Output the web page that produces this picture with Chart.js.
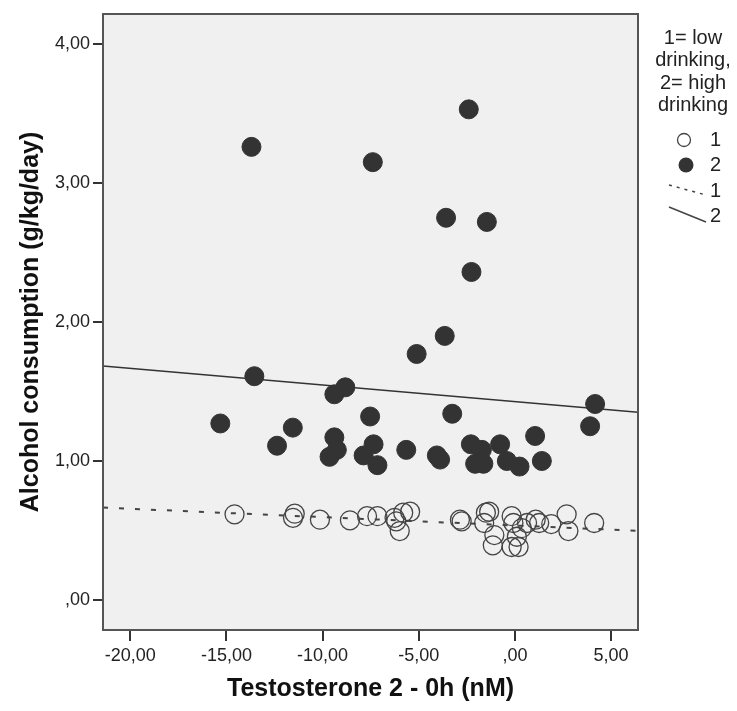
<!DOCTYPE html>
<html><head><meta charset="utf-8">
<script src="https://cdn.jsdelivr.net/npm/chart.js@4.4.1/dist/chart.umd.min.js"></script>
<style>html,body{margin:0;padding:0;background:#fff}#wrap{position:relative;width:737px;height:711px}</style>
</head><body><div id="wrap"><canvas id="c" width="737" height="711"></canvas></div>
<script>
// ---- data ----
const xTicks = [-20, -15, -10, -5, 0, 5];
const yTicks = [0, 1, 2, 3, 4];
const xRange = [-21.42, 6.40];
const yRange = [-0.216, 4.216];

// group 1 = low drinking (open circles)
const lowX = [-14.58, -11.45, -11.54, -10.14, -8.58, -7.69, -7.15, -6.26, -6.17, -5.99, -5.81, -5.45,
  -2.86, -2.77, -1.51, -1.34, -1.60, -1.07, -1.15, -0.17, -0.08, -0.17, 0.19, 0.10, 0.36, 0.63,
  1.08, 1.26, 1.89, 2.69, 2.78, 4.12];
const lowY = [0.616, 0.621, 0.591, 0.578, 0.573, 0.603, 0.603, 0.591, 0.566, 0.496, 0.628, 0.635,
  0.578, 0.566, 0.628, 0.635, 0.554, 0.467, 0.393, 0.603, 0.554, 0.381, 0.381, 0.455, 0.517, 0.554,
  0.578, 0.554, 0.546, 0.616, 0.496, 0.554];

// group 2 = high drinking (filled circles)
const highX = [-2.40, -13.70, -7.39, -3.58, -1.46, -2.26, -3.65, -5.11, -13.55, -8.82, -9.39, -15.32,
  -11.55, -12.37, -9.39, -9.26, -9.64, -7.53, -3.26, 4.17, 3.91, 1.05, -7.35, -7.87, -7.15, -5.65,
  -4.06, -3.89, -2.29, -1.72, -2.07, -1.64, -0.77, -0.42, 0.24, 1.40];
const highY = [3.53, 3.26, 3.15, 2.75, 2.72, 2.36, 1.90, 1.77, 1.61, 1.53, 1.48, 1.27,
  1.24, 1.11, 1.17, 1.08, 1.03, 1.32, 1.34, 1.41, 1.25, 1.18, 1.12, 1.04, 0.97, 1.08,
  1.04, 1.01, 1.12, 1.08, 0.98, 0.98, 1.12, 1.00, 0.96, 1.00];

// fit lines (intercept, slope)
const fitLow = [0.536, -0.00601];
const fitHigh = [1.427, -0.01197];

const legendTitle = ["1= low", "drinking,", "2= high", "drinking"];
const legendLabels = ["1", "2", "1", "2"];
const xTitle = "Testosterone 2 - 0h (nM)";
const yTitle = "Alcohol consumption (g/kg/day)";

// ---- build ----
const pts = (xs, ys) => xs.map((x, i) => ({x: x, y: ys[i]}));
const fitPts = f => xRange.map(x => ({x: x, y: f[0] + f[1] * x}));
const fmt = v => { let s = Math.abs(v).toFixed(2).replace('.', ','); if (s.startsWith('0,')) s = s.slice(1); return (v < 0 ? '-' : '') + s; };
const FONT = 'Arial, "Liberation Sans", sans-serif';
const INK = '#333333';

const framePlugin = {
  id: 'frame',
  beforeDatasetsDraw(chart) {
    const {ctx, chartArea: a} = chart;
    ctx.save();
    ctx.fillStyle = '#f0f0f0';
    ctx.fillRect(a.left, a.top, a.right - a.left, a.bottom - a.top);
    ctx.restore();
  },
  afterDatasetsDraw(chart) {
    const {ctx, chartArea: a} = chart;
    ctx.save();
    ctx.strokeStyle = '#555';
    ctx.lineWidth = 2;
    ctx.strokeRect(a.left, a.top, a.right - a.left, a.bottom - a.top);
    ctx.restore();
  },
  afterDraw(chart) {
    const ctx = chart.ctx;
    ctx.save();
    ctx.fillStyle = '#222';
    ctx.font = '20px ' + FONT;
    ctx.textAlign = 'center';
    ctx.textBaseline = 'middle';
    const cx = 693;
    [38, 60, 83, 105].forEach((y, i) => ctx.fillText(legendTitle[i], cx, y));
    // markers
    ctx.strokeStyle = '#444'; ctx.lineWidth = 1.3;
    ctx.beginPath(); ctx.arc(684, 140, 6.5, 0, Math.PI * 2); ctx.stroke();
    ctx.fillStyle = INK;
    ctx.beginPath(); ctx.arc(686, 165, 7.5, 0, Math.PI * 2); ctx.fill();
    ctx.strokeStyle = '#444'; ctx.lineWidth = 1.5;
    ctx.setLineDash([3, 5]);
    ctx.beginPath(); ctx.moveTo(669, 185); ctx.lineTo(706, 195); ctx.stroke();
    ctx.setLineDash([]);
    ctx.beginPath(); ctx.moveTo(669, 207); ctx.lineTo(706, 222); ctx.stroke();
    ctx.fillStyle = '#222';
    ctx.textAlign = 'left';
    [140, 165, 191, 216].forEach((y, i) => ctx.fillText(legendLabels[i], 710, y));
    ctx.restore();
  }
};

new Chart(document.getElementById('c'), {
  type: 'scatter',
  data: {
    datasets: [
      {label: '1', data: pts(lowX, lowY), order: 1, pointRadius: 9.5, pointHoverRadius: 9.5,
       backgroundColor: 'rgba(0,0,0,0)', borderColor: '#444', borderWidth: 1.3},
      {label: '2', data: pts(highX, highY), order: 1, pointRadius: 9.5, pointHoverRadius: 9.5,
       backgroundColor: INK, borderColor: INK, borderWidth: 1},
      {label: 'fit 1', type: 'line', data: fitPts(fitLow), order: 2, showLine: true, pointRadius: 0,
       borderColor: '#444', borderWidth: 2, borderDash: [5, 11], fill: false},
      {label: 'fit 2', type: 'line', data: fitPts(fitHigh), order: 2, showLine: true, pointRadius: 0,
       borderColor: INK, borderWidth: 1.6, fill: false}
    ]
  },
  options: {
    responsive: false,
    animation: false,
    devicePixelRatio: 1,
    layout: {padding: {top: 14, right: 99, left: 0, bottom: 0}},
    plugins: {legend: {display: false}, tooltip: {enabled: false}},
    scales: {
      x: {
        type: 'linear', min: xRange[0], max: xRange[1],
        afterBuildTicks: s => { s.ticks = xTicks.map(v => ({value: v})); },
        afterFit: s => { s.height = 81; },
        grid: {display: true, drawOnChartArea: false, drawTicks: true, tickLength: 11, color: INK, lineWidth: 2},
        border: {display: false},
        ticks: {callback: v => fmt(v), color: '#222', padding: 4, maxRotation: 0, font: {family: FONT, size: 18}},
        title: {display: true, text: xTitle, color: '#111', padding: {top: 0, bottom: 7},
                font: {family: FONT, size: 25, weight: 'bold'}}
      },
      y: {
        type: 'linear', min: yRange[0], max: yRange[1],
        afterBuildTicks: s => { s.ticks = yTicks.map(v => ({value: v})); },
        afterFit: s => { s.width = 103; },
        grid: {display: true, drawOnChartArea: false, drawTicks: true, tickLength: 10, color: INK, lineWidth: 2},
        border: {display: false},
        ticks: {callback: v => fmt(v), color: '#222', padding: 3, font: {family: FONT, size: 18}},
        title: {display: true, text: yTitle, color: '#111', padding: {top: 16, bottom: 0},
                font: {family: FONT, size: 25, weight: 'bold'}}
      }
    }
  },
  plugins: [framePlugin]
});
</script>
</body></html>
